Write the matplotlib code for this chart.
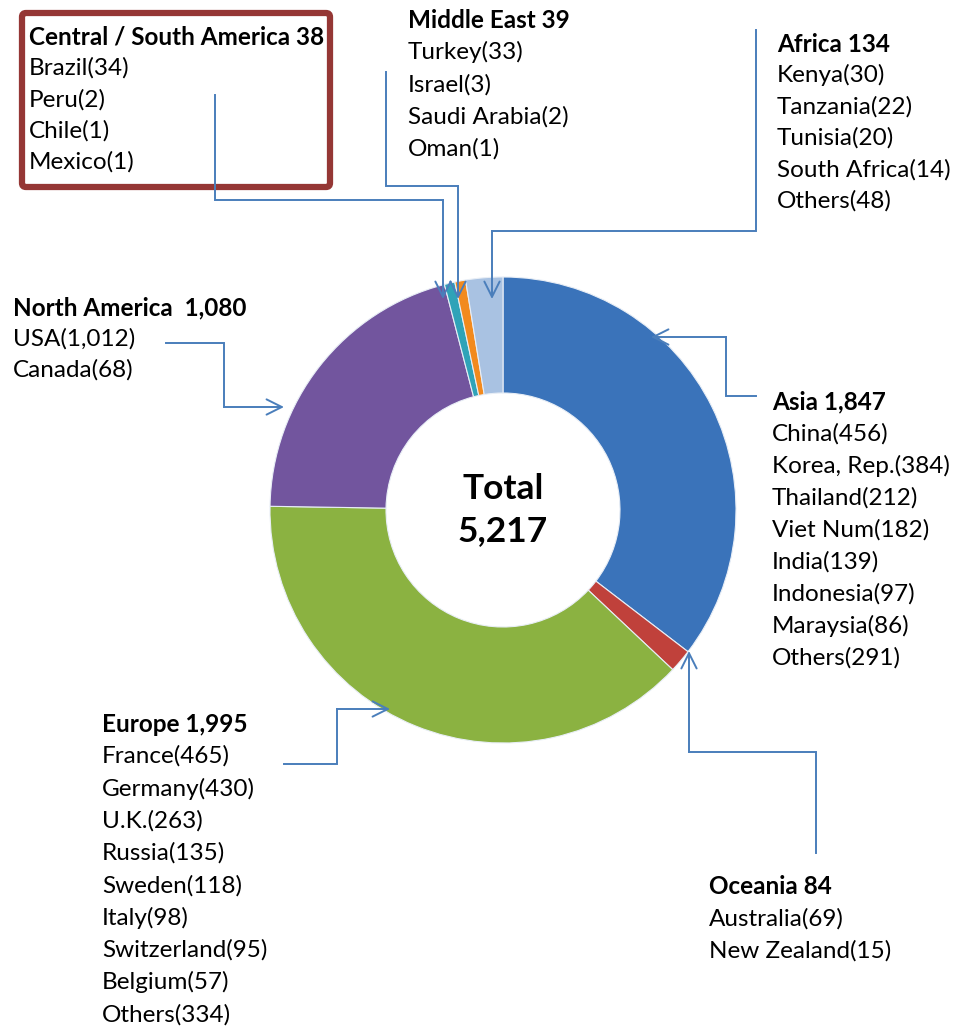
import matplotlib
matplotlib.use("Agg")
import matplotlib.pyplot as plt
from matplotlib.patches import FancyBboxPatch

# regions, clockwise from the top
regions = ["Asia", "Oceania", "Europe", "North America", "Central / South America", "Middle East", "Africa"]
totals = [1847, 84, 1995, 1080, 38, 39, 134]
colors = ["#3a73ba", "#c0413b", "#8bb241", "#72559e", "#2fa3b8", "#f28a1e", "#a9c2e2"]

asia = ["China(456)", "Korea, Rep.(384)", "Thailand(212)", "Viet Num(182)", "India(139)",
        "Indonesia(97)", "Maraysia(86)", "Others(291)"]
oceania = ["Australia(69)", "New Zealand(15)"]
europe = ["France(465)", "Germany(430)", "U.K.(263)", "Russia(135)", "Sweden(118)", "Italy(98)",
          "Switzerland(95)", "Belgium(57)", "Others(334)"]
n_america = ["USA(1,012)", "Canada(68)"]
cs_america = ["Brazil(34)", "Peru(2)", "Chile(1)", "Mexico(1)"]
mid_east = ["Turkey(33)", "Israel(3)", "Saudi Arabia(2)", "Oman(1)"]
africa = ["Kenya(30)", "Tanzania(22)", "Tunisia(20)", "South Africa(14)", "Others(48)"]

W, H = 956, 1026
FONT = "Lato"
FS = 17.5
LINE = "#4a7ebb"

def Y(py):
    return H - py

fig = plt.figure(figsize=(W / 100, H / 100), dpi=100)
ax = fig.add_axes([0, 0, 1, 1])

ax.pie(totals, colors=colors, startangle=90, counterclock=False, radius=233,
       center=(503, Y(510)),
       wedgeprops=dict(width=116, edgecolor="#e8eef6", linewidth=0.8))
ax.set_xlim(0, W)
ax.set_ylim(0, H)
ax.set_aspect("equal")
ax.axis("off")

total = sum(totals)
ax.text(503, Y(489), "Total", ha="center", va="center", fontsize=25.5, fontweight="bold", family=FONT)
ax.text(503, Y(531), f"{total:,}", ha="center", va="center", fontsize=25.5, fontweight="bold", family=FONT)


def block(x, y0, step, title, items):
    ax.text(x, Y(y0), title, ha="left", va="center", fontsize=FS, fontweight="bold", family=FONT)
    for i, s in enumerate(items):
        ax.text(x, Y(y0 + step * (i + 1)), s, ha="left", va="center", fontsize=FS, family=FONT)


tot = dict(zip(regions, totals))
block(29, 37, 31.3, f"Central / South America {tot['Central / South America']:,}", cs_america)
block(408, 20, 32.2, f"Middle East {tot['Middle East']:,}", mid_east)
block(777, 44, 31.4, f"Africa {tot['Africa']:,}", africa)
block(13, 308, 31, f"North America  {tot['North America']:,}", n_america)
block(772, 402, 32, f"Asia {tot['Asia']:,}", asia)
block(102, 724, 32.3, f"Europe {tot['Europe']:,}", europe)
block(709, 887, 32, f"Oceania {tot['Oceania']:,}", oceania)

# box round the Central / South America label
ax.add_patch(FancyBboxPatch((22, Y(187)), 308, 174, boxstyle="round,pad=0,rounding_size=4",
                            fill=False, edgecolor="#953735", linewidth=4.5))


def connector(pts):
    xs = [p[0] for p in pts[:-1]]
    ys = [Y(p[1]) for p in pts[:-1]]
    ax.plot(xs, ys, color=LINE, lw=1.4, solid_joinstyle="miter")
    (x0, y0), (x1, y1) = pts[-2], pts[-1]
    ax.annotate("", xy=(x1, Y(y1)), xytext=(x0, Y(y0)),
                arrowprops=dict(arrowstyle="->,head_length=1.1,head_width=0.55",
                                color=LINE, lw=1.4, shrinkA=0, shrinkB=0))


connector([(215, 95), (215, 200), (443, 200), (443, 299)])
connector([(386, 72), (386, 186), (458, 186), (458, 299)])
connector([(756, 30), (756, 231), (492, 231), (492, 299)])
connector([(756, 396), (726, 396), (726, 337), (651, 337)])
connector([(166, 343), (224, 343), (224, 407), (284, 407)])
connector([(284, 764), (337, 764), (337, 709), (390, 709)])
connector([(816, 853), (816, 752), (689, 752), (689, 651)])

fig.savefig("out.png", dpi=100)
